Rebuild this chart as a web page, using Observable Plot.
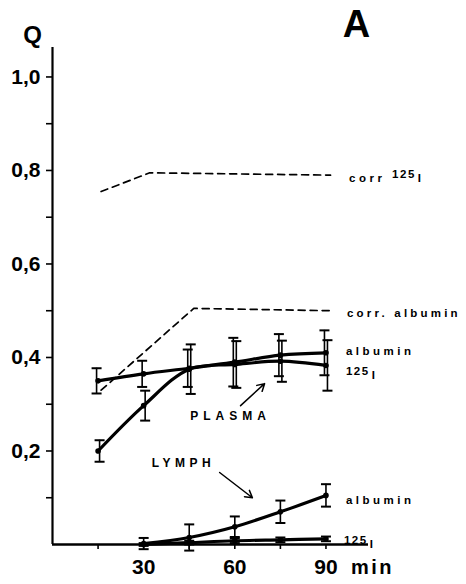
<!DOCTYPE html>
<html>
<head>
<meta charset="utf-8">
<script src="https://cdn.jsdelivr.net/npm/d3@7"></script>
<script src="https://cdn.jsdelivr.net/npm/@observablehq/plot@0.6"></script>
<style>
  html, body { margin: 0; padding: 0; background: white; }
  svg { display: block; }
</style>
</head>
<body>
<div id="chart"></div>
<script>
// ---- data ----
const times = [15, 30, 45, 60, 75, 90];
const plasmaAlbumin    = [0.350, 0.365, 0.377, 0.390, 0.405, 0.410];
const plasmaAlbuminErr = [0.027, 0.028, 0.040, 0.052, 0.045, 0.048];
const plasmaIodine     = [0.200, 0.297, 0.375, 0.385, 0.392, 0.383];
const plasmaIodineErr  = [0.023, 0.032, 0.053, 0.050, 0.044, 0.054];

const lymphTimes = [30, 45, 60, 75, 90];
const lymphAlbumin    = [0.002, 0.015, 0.038, 0.070, 0.105];
const lymphAlbuminErr = [0.012, 0.028, 0.022, 0.024, 0.024];
const lymphIodine     = [0.000, 0.004, 0.008, 0.010, 0.012];
const lymphIodineErr  = [0.003, 0.004, 0.005, 0.005, 0.005];

const corrIodineTimes  = [16, 32, 91.5];
const corrIodine       = [0.755, 0.795, 0.790];
const corrAlbuminTimes = [16, 46.5, 91.5];
const corrAlbumin      = [0.330, 0.505, 0.500];

const xTicks = [15, 30, 45, 60, 75, 90];
const xTickLabels = ["", "30", "", "60", "", "90"];
const yTicks = [0.1, 0.2, 0.3, 0.4, 0.5, 0.6, 0.7, 0.8, 0.9, 1.0];
const yTickLabels = ["", "0,2", "", "0,4", "", "0,6", "", "0,8", "", "1,0"];

const seriesLabels = {
  plasmaAlbumin: "albumin", plasmaIodine: "125I",
  lymphAlbumin: "albumin", lymphIodine: "125I",
  corrIodine: "corr 125I", corrAlbumin: "corr. albumin"
};
const groupLabels = ["PLASMA", "LYMPH"];
const yAxisTitle = "Q";
const panelLetter = "A";
const xUnit = "min";

// ---- tables ----
const rows = (ts, vs, es) => ts.map((t, i) => ({t, v: vs[i], lo: es ? vs[i] - es[i] : vs[i], hi: es ? vs[i] + es[i] : vs[i]}));
const pA = rows(times, plasmaAlbumin, plasmaAlbuminErr);
const pI = rows(times, plasmaIodine, plasmaIodineErr);
const lA = rows(lymphTimes, lymphAlbumin, lymphAlbuminErr);
const lI = rows(lymphTimes, lymphIodine, lymphIodineErr);
const cI = rows(corrIodineTimes, corrIodine);
const cA = rows(corrAlbuminTimes, corrAlbumin);

const cap = { draw(ctx, size) { const w = Math.sqrt(size / Math.PI); ctx.moveTo(-w, 0); ctx.lineTo(w, 0); } };

function errorMarks(data, dx) {
  return [
    Plot.ruleX(data, {x: "t", y1: "lo", y2: "hi", dx, stroke: "black", strokeWidth: 1.6}),
    Plot.dot(data, {x: "t", y: "hi", dx, symbol: cap, r: 5, fill: "none", stroke: "black", strokeWidth: 2}),
    Plot.dot(data, {x: "t", y: "lo", dx, symbol: cap, r: 5, fill: "none", stroke: "black", strokeWidth: 2})
  ];
}
function seriesMarks(data, dx) {
  return [
    ...errorMarks(data, dx),
    Plot.line(data, {x: "t", y: "v", curve: "catmull-rom", stroke: "black", strokeWidth: 3.2}),
    Plot.dot(data, {x: "t", y: "v", r: 2.8, fill: "black"})
  ];
}
function endLabel(data, text, dx, dy) {
  return Plot.text([data[data.length - 1]], {x: "t", y: "v", text: () => text, dx, dy,
    textAnchor: "start", fontSize: 11.5, fontWeight: "bold", fill: "black"});
}

const chart = Plot.plot({
  width: 466, height: 584,
  marginLeft: 52, marginRight: 98, marginTop: 47, marginBottom: 40,
  x: {domain: [0, 104]},
  y: {domain: [0, 1.063]},
  style: {fontFamily: "'Liberation Sans', Arial, sans-serif", background: "white", color: "black"},
  marks: [
    Plot.axisY({ticks: yTicks, tickFormat: d => yTickLabels[yTicks.findIndex(t => Math.abs(t - d) < 1e-9)],
      tickSize: 6, tickPadding: 6, fontSize: 21, fontWeight: "bold", label: null, strokeWidth: 1.6}),
    Plot.axisX({ticks: xTicks, tickFormat: d => xTickLabels[xTicks.indexOf(d)],
      tickSize: 5, tickPadding: 10, fontSize: 21, fontWeight: "bold", label: null, strokeWidth: 1.6}),
    Plot.ruleX([0], {stroke: "black", strokeWidth: 2.2}),
    Plot.ruleY([0], {stroke: "black", strokeWidth: 2.6}),

    Plot.line(cI, {x: "t", y: "v", stroke: "black", strokeWidth: 1.7, strokeDasharray: "7,5"}),
    Plot.line(cA, {x: "t", y: "v", stroke: "black", strokeWidth: 1.7, strokeDasharray: "7,5"}),

    ...seriesMarks(pA, -1.5),
    ...seriesMarks(pI, 1.5),
    ...seriesMarks(lA, 0),
    ...seriesMarks(lI, 0),

    endLabel(cI, seriesLabels.corrIodine, 18.5, 3),
    endLabel(cA, seriesLabels.corrAlbumin, 16.5, 3),
    endLabel(pA, seriesLabels.plasmaAlbumin, 20, -1),
    endLabel(pI, seriesLabels.plasmaIodine, 20, 9.5),
    endLabel(lA, seriesLabels.lymphAlbumin, 20, 4.5),
    endLabel(lI, seriesLabels.lymphIodine, 18, 5),

    Plot.text([{t: 58.6, v: 0.274, label: groupLabels[0]}, {t: 43.1, v: 0.173, label: groupLabels[1]}],
      {x: "t", y: "v", text: "label", fontSize: 12, fontWeight: "bold", fill: "black"}),
    Plot.arrow([{x1: 61.9, y1: 0.297, x2: 69.8, y2: 0.344}, {x1: 55, y1: 0.154, x2: 65.8, y2: 0.100}],
      {x1: "x1", y1: "y1", x2: "x2", y2: "y2", stroke: "black", strokeWidth: 1.5, headLength: 8}),

    Plot.text([yAxisTitle], {frameAnchor: "top-left", text: d => d, dx: -20, dy: -12,
      textAnchor: "middle", lineAnchor: "middle", fontSize: 24, fontWeight: "bold", fill: "black"}),
    Plot.text([panelLetter], {frameAnchor: "top-right", text: d => d, dx: -12, dy: -23,
      textAnchor: "middle", lineAnchor: "middle", fontSize: 38, fontWeight: "bold", fill: "black"}),
    Plot.text([xUnit], {frameAnchor: "bottom-right", text: d => d, dx: 4, dy: 23,
      textAnchor: "middle", lineAnchor: "middle", fontSize: 20, fontWeight: "bold", fill: "black"})
  ]
});

// ---- typographic touches: letter spacing and raised "125" ----
const spacing = {"PLASMA": 5, "LYMPH": 4.5, "albumin": 3.5, "corr. albumin": 3.2, "min": 2.5};
d3.select(chart).selectAll("g[aria-label='text'] text").each(function() {
  const s = this.textContent;
  const sel = d3.select(this);
  if (spacing[s] != null) sel.style("letter-spacing", spacing[s] + "px");
  if (s.endsWith("125I")) {
    const prefix = s.slice(0, -4);
    sel.text(prefix);
    sel.style("letter-spacing", "3.5px");
    sel.append("tspan").attr("dy", -4).style("letter-spacing", "1.5px").text("125");
    sel.append("tspan").attr("dy", 4).attr("dx", 2).text("I");
  }
});

document.getElementById("chart").appendChild(chart);
</script>
</body>
</html>
